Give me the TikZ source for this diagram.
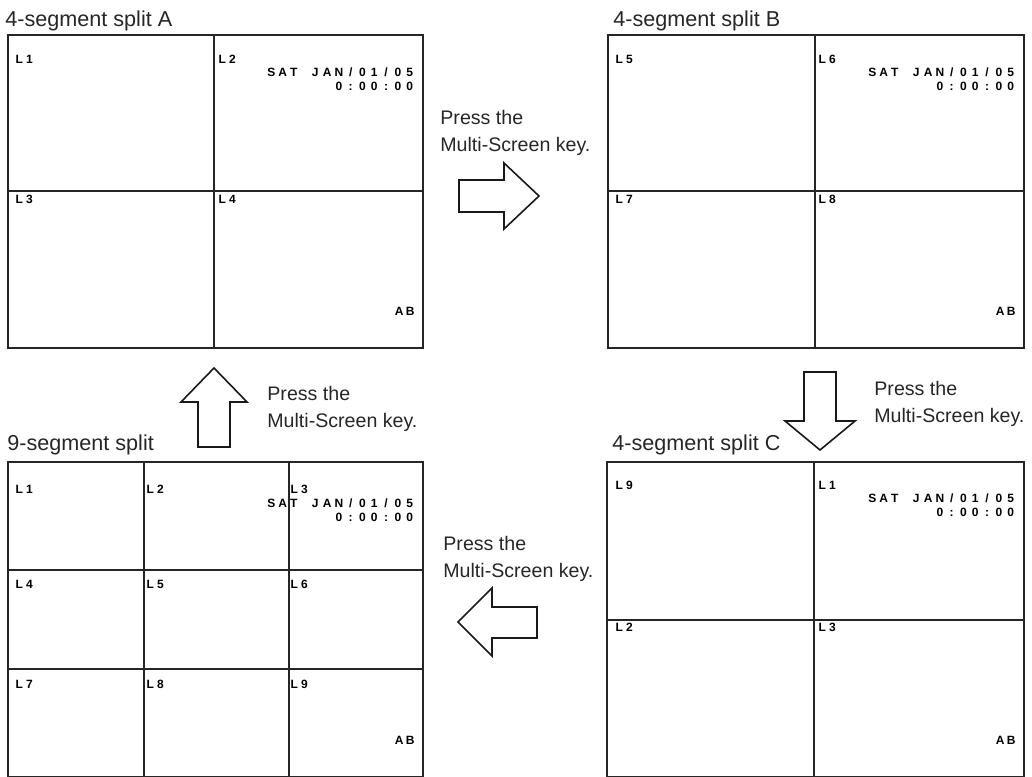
\documentclass[tikz,border=0pt]{standalone}
\usepackage{fontspec}
\setmainfont{Liberation Sans}
\makeatletter
\newlength\osdw
% one fixed-width cell per character, like the on-screen display
\newcommand\osd[2][5.9pt]{\setlength\osdw{#1}\@tfor\osd@c:=#2\do{\makebox[\osdw]{\osd@c}}}
\makeatother
\tikzset{
  screen/.style={draw=black!85, line width=0.9pt},
  keyarrow/.style={draw=black!90, line width=0.8pt, miter limit=10},
  title/.style={font=\fontsize{10.8}{12}\selectfont, anchor=base west, inner sep=0pt, text=black!85},
  press/.style={font=\fontsize{9.8}{13.5}\selectfont, align=left, anchor=north west, inner sep=0pt, text=black!85},
  osdtext/.style={font=\fontsize{6}{7}\selectfont\bfseries, inner sep=0pt, text=black},
}
\begin{document}
\begin{tikzpicture}[x=0.5pt, y=-0.5pt]
\useasboundingbox (0,0) rectangle (1032,776);

% screens
\draw[screen] (8,35) rectangle (423,348) (214,35)--(214,348) (8,191)--(423,191);
\draw[screen] (608,35) rectangle (1024,348) (815,35)--(815,348) (608,191)--(1024,191);
\draw[screen] (8,462) rectangle (423,777) (144,462)--(144,777) (289,462)--(289,777)
  (8,570)--(423,570) (8,669)--(423,669);
\draw[screen] (607,462) rectangle (1024,777) (814,462)--(814,777) (607,620)--(1024,620);

% titles
\node[title] (titleA) at (5,26) {4-segment split A};
\node[title] (titleB) at (613,26) {4-segment split B};
\node[title] (titleN) at (7,450) {9-segment split};
\node[title] (titleC) at (612,450) {4-segment split C};

% camera labels
\foreach \n/\x/\y in {1/14/59, 2/217/59, 3/14/199, 4/217/199}
  \node[osdtext, anchor=west] (camA\n) at (\x,\y) {\osd[5pt]{L\n}};
\foreach \n/\x/\y in {5/614/59, 6/817/59, 7/614/199, 8/817/199}
  \node[osdtext, anchor=west] (camB\n) at (\x,\y) {\osd[5pt]{L\n}};
\foreach \n/\x/\y in {1/14/489, 2/145/489, 3/289/489, 4/14/584, 5/145/584, 6/289/584, 7/14/684, 8/145/684, 9/289/684}
  \node[osdtext, anchor=west] (camN\n) at (\x,\y) {\osd[5pt]{L\n}};
\foreach \n/\m/\x/\y in {9/1/614/485, 1/2/817/485, 2/3/614/627, 3/4/817/627}
  \node[osdtext, anchor=west] (camC\m) at (\x,\y) {\osd[5pt]{L\n}};

% date and time
\foreach \s/\x/\y in {A/416/72, B/1017/72, N/416/503, C/1017/498}
{
  \node[osdtext, anchor=east] (date\s) at (\x,\y) {\osd[5.6pt]{SAT}\hspace{5pt}\osd{JAN/01/05}};
  \node[osdtext, anchor=east] (time\s) at (\x,\y+14) {\osd{0:00:00}};
}
\foreach \s/\x/\y in {A/416/311, B/1017/311, N/416/740, C/1017/740}
  \node[osdtext, anchor=east] (mode\s) at (\x,\y) {\osd[5.5pt]{AB}};

% key arrows
\draw[keyarrow] (459,180)--(504,180)--(504,163)--(539,196)--(504,229)--(504,212)--(459,212)--cycle;
\draw[keyarrow] (804,372)--(836,372)--(836,421)--(855,421)--(820,450)--(785,421)--(804,421)--cycle;
\draw[keyarrow] (537,607)--(492,607)--(492,588)--(458,622)--(492,656)--(492,638)--(537,638)--cycle;
\draw[keyarrow] (198,447)--(198,402)--(181,402)--(214,368)--(247,402)--(230,402)--(230,447)--cycle;

\node[press] (pressR) at (440,110) {Press the\\Multi-Screen key.};
\node[press] (pressD) at (874,381) {Press the\\Multi-Screen key.};
\node[press] (pressL) at (443,536) {Press the\\Multi-Screen key.};
\node[press] (pressU) at (267,386) {Press the\\Multi-Screen key.};
\end{tikzpicture}
\end{document}
